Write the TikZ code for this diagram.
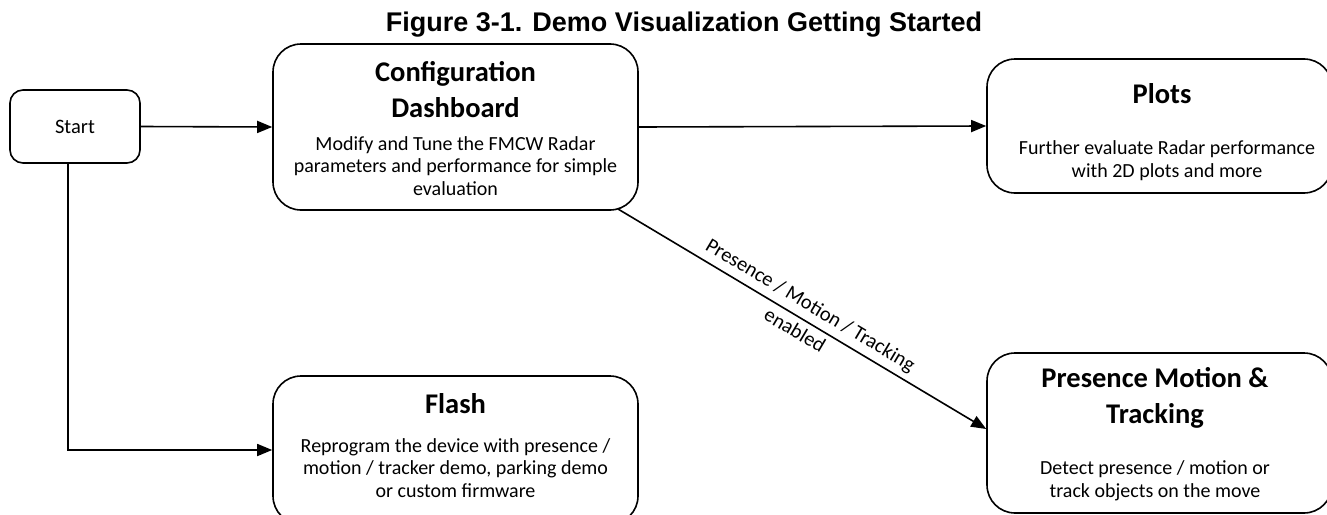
\documentclass[tikz,border=0pt]{standalone}
\usepackage{fontspec}
\setmainfont{Carlito}
\newfontfamily\titlefont{Liberation Sans}
\usetikzlibrary{arrows.meta,calc}
\begin{document}
\begin{tikzpicture}[x=1pt,y=-1pt,
  box/.style={draw,line width=1.6pt,rounded corners=28pt,inner sep=0pt},
  ttl/.style={font=\fontsize{28.5}{35.5}\selectfont\bfseries,anchor=base,align=center},
  txt/.style={font=\fontsize{20}{22.5}\selectfont,anchor=base,align=center},
  lbltxt/.style={font=\fontsize{20.5}{24}\selectfont,rotate=-30.8,inner sep=0pt,anchor=center},
  arr/.style={line width=1.6pt,-{Triangle[length=15pt,width=12pt]}}]
\clip (0,0) rectangle (1327,514);
\fill[white] (0,0) rectangle (1327,514);
% title
\node[font=\titlefont\fontsize{27}{30}\selectfont\bfseries,anchor=base] (title) at (684,31) {Figure 3-1. Demo Visualization Getting Started};
% boxes
\node[box,rounded corners=13pt,minimum width=130pt,minimum height=73pt,font=\fontsize{20.5}{24}\selectfont] (start) at (75,126.5) {Start};
\node[box,minimum width=365pt,minimum height=166pt] (cfg) at (455.5,127) {};
\node[box,minimum width=345pt,minimum height=134pt] (plots) at (1159.5,126) {};
\node[box,minimum width=365pt,minimum height=148pt] (flash) at (455.5,450) {};
\node[box,minimum width=345pt,minimum height=160pt] (pmt) at (1159.5,433) {};
% texts (anchor base = baseline of last line)
\node[ttl] (cfgt) at (455.5,117) {Configuration\\Dashboard};
\node[txt] (cfgb) at (455.5,195) {Modify and Tune the FMCW Radar\\parameters and performance for simple\\evaluation};
\node[ttl] (plotst) at (1162,103) {Plots};
\node[txt] (plotsb) at (1167,177) {Further evaluate Radar performance\\with 2D plots and more};
\node[ttl] (flasht) at (455.5,413) {Flash};
\node[txt] (flashb) at (455.5,497) {Reprogram the device with presence /\\motion / tracker demo, parking demo\\or custom firmware};
\node[ttl] (pmtt) at (1155,423) {Presence Motion \&\\Tracking};
\node[txt] (pmtb) at (1155,497) {Detect presence / motion or\\track objects on the move};
% connectors
\coordinate (d1) at (618,209);
\coordinate (d2) at ($(pmt.west)+(0,-4)$);
\draw[arr] (start.east) -- (cfg.west);
\draw[arr] (cfg.east) -- (plots.west);
\draw[arr] ([xshift=-7pt]start.south) |- (flash.west);
\draw[arr] (d1) -- (d2);
\node[lbltxt] (lbl1) at (810,306) {Presence / Motion / Tracking};
\node[lbltxt] (lbl2) at (795,330) {enabled};
\end{tikzpicture}
\end{document}
